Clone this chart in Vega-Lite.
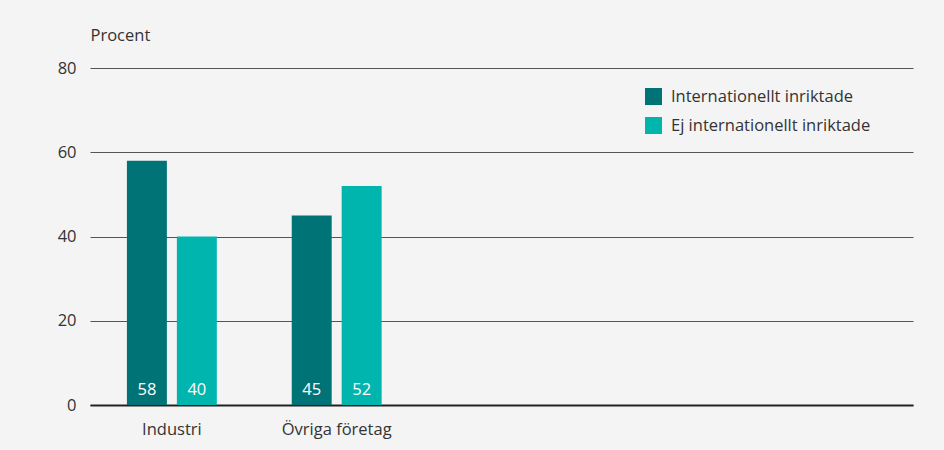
{
  "$schema": "https://vega.github.io/schema/vega-lite/v6.json",
  "width": 823,
  "height": 337,
  "autosize": {"type": "none"},
  "padding": {"left": 90, "top": 68, "right": 31, "bottom": 45},
  "background": "#f4f4f4",
  "config": {
    "view": {"stroke": null},
    "font": "Open Sans",
    "axis": {"labelColor": "#333333", "titleColor": "#333333", "labelFont": "Open Sans", "titleFont": "Open Sans"},
    "legend": {"labelColor": "#333333", "labelFont": "Open Sans"}
  },
  "data": {
    "values": [
      {"grupp": "Industri", "typ": "Internationellt inriktade", "varde": 58},
      {"grupp": "Industri", "typ": "Ej internationellt inriktade", "varde": 40},
      {"grupp": "Övriga företag", "typ": "Internationellt inriktade", "varde": 45},
      {"grupp": "Övriga företag", "typ": "Ej internationellt inriktade", "varde": 52}
    ]
  },
  "encoding": {
    "x": {
      "field": "grupp",
      "type": "nominal",
      "scale": {"domain": ["Industri", "Övriga företag", " ", "  ", "   "], "paddingInner": 0.4545, "paddingOuter": 0.224},
      "axis": {"title": null, "labelAngle": 0, "ticks": false, "domain": true, "domainColor": "#222222", "domainWidth": 2, "labelFontSize": 16.5, "labelPadding": 16, "grid": false}
    },
    "xOffset": {
      "field": "typ",
      "type": "nominal",
      "scale": {"domain": ["Internationellt inriktade", "Ej internationellt inriktade"], "paddingInner": 0.2, "paddingOuter": 0}
    }
  },
  "layer": [
    {
      "mark": {"type": "bar"},
      "encoding": {
        "y": {
          "field": "varde",
          "type": "quantitative",
          "scale": {"domain": [0, 80]},
          "axis": {
            "values": [0, 20, 40, 60, 80],
            "grid": true,
            "gridColor": "#555555",
            "gridWidth": 1,
            "domain": false,
            "ticks": false,
            "labelFontSize": 16.5,
            "labelPadding": 14,
            "title": "Procent",
            "titleAngle": 0,
            "titleAlign": "left",
            "titleBaseline": "alphabetic",
            "titleX": 0,
            "titleY": -28,
            "titleFontSize": 16.5,
            "titleFontWeight": "normal"
          }
        },
        "color": {
          "field": "typ",
          "type": "nominal",
          "scale": {"domain": ["Internationellt inriktade", "Ej internationellt inriktade"], "range": ["#007377", "#00b5ad"]},
          "legend": {
            "title": null,
            "orient": "none",
            "legendX": 555,
            "legendY": 20,
            "symbolType": "square",
            "symbolSize": 289,
            "symbolStrokeWidth": 0,
            "labelFontSize": 16.5,
            "labelOffset": 9,
            "labelLimit": 0,
            "rowPadding": 12
          }
        }
      }
    },
    {
      "mark": {"type": "text", "color": "white", "fontSize": 16.5, "baseline": "alphabetic", "dy": -10},
      "encoding": {
        "y": {"datum": 0, "type": "quantitative"},
        "text": {"field": "varde", "type": "quantitative"}
      }
    }
  ]
}
